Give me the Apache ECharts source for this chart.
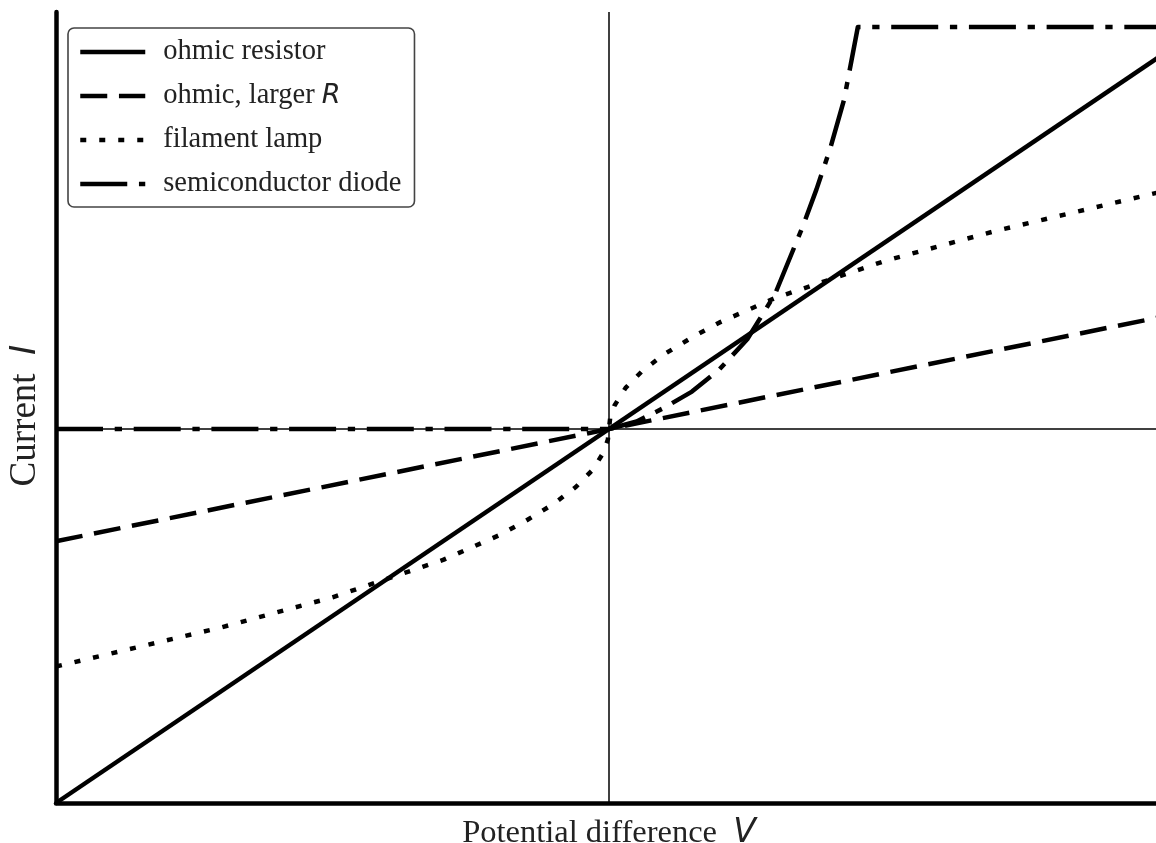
<!DOCTYPE html>
<html>
<head>
<meta charset="utf-8">
<title>I–V characteristics</title>
<script src="https://cdn.jsdelivr.net/npm/echarts@6/dist/echarts.min.js"></script>
<style>
  html, body { margin: 0; padding: 0; background: #fff; }
  #chart { width: 1156px; height: 843px; }
</style>
</head>
<body>
<div id="chart"></div>
<script>
// Series names (legend order)
const seriesNames = ['ohmic resistor', 'ohmic, larger R', 'filament lamp', 'semiconductor diode'];

// [potential difference V, current I] pairs, arbitrary units
const ohmicResistor = [[-1, -1], [1, 1]];
const ohmicLargerR = [[-1, -0.3], [1, 0.3]];
const filamentLamp = [
  [-1, -0.635], [-0.9, -0.60], [-0.8, -0.565], [-0.7, -0.53], [-0.6, -0.49],
  [-0.5, -0.45], [-0.4, -0.40], [-0.3, -0.35], [-0.2, -0.285], [-0.15, -0.245],
  [-0.1, -0.20], [-0.06, -0.155], [-0.03, -0.11], [-0.01, -0.063], [-0.002, -0.028],
  [0, 0],
  [0.002, 0.028], [0.01, 0.063], [0.03, 0.11], [0.06, 0.155], [0.1, 0.20],
  [0.15, 0.245], [0.2, 0.285], [0.3, 0.35], [0.4, 0.40], [0.5, 0.45],
  [0.6, 0.49], [0.7, 0.53], [0.8, 0.565], [0.9, 0.60], [1, 0.635]
];
const semiconductorDiode = [
  [-1, 0], [0, 0], [0.05, 0.02], [0.1, 0.057], [0.15, 0.10], [0.2, 0.16],
  [0.25, 0.24], [0.3, 0.36], [0.35, 0.54], [0.375, 0.64], [0.4, 0.75],
  [0.425, 0.88], [0.45, 1.075], [1, 1.075]
];

// Axis ranges
const vRange = [-1, 1];
const iRange = [-1, 1.115];

const lineW = 4.5;
const serifFont = '"Liberation Serif", "Times New Roman", serif';
const mathFont = '"DejaVu Sans", sans-serif';

const chart = echarts.init(document.getElementById('chart'), null, { renderer: 'canvas' });

function curve(name, data, dash, z) {
  return {
    name: name,
    type: 'line',
    data: data,
    symbol: 'none',
    smooth: false,
    silent: true,
    z: z,
    itemStyle: { color: '#000' },
    lineStyle: { color: '#000', width: lineW, type: dash, cap: 'butt', join: 'round' }
  };
}

chart.setOption({
  animation: false,
  backgroundColor: '#fff',
  grid: {
    left: 56, top: 12, width: 1106, height: 791,
    containLabel: false, outerBoundsMode: 'none'
  },
  xAxis: {
    type: 'value', min: vRange[0], max: vRange[1],
    axisLine: { show: true, onZero: false, lineStyle: { color: '#000', width: lineW } },
    axisTick: { show: false }, axisLabel: { show: false }, splitLine: { show: false },
    name: 'Potential difference  {it|V}',
    nameLocation: 'middle', nameGap: 14,
    nameTextStyle: {
      fontFamily: serifFont, fontSize: 32.5, color: '#222', verticalAlign: 'top',
      rich: { it: { fontFamily: mathFont, fontStyle: 'italic', fontSize: 33, color: '#222' } }
    }
  },
  yAxis: {
    type: 'value', min: iRange[0], max: iRange[1],
    axisLine: { show: true, onZero: false, lineStyle: { color: '#000', width: lineW } },
    axisTick: { show: false }, axisLabel: { show: false }, splitLine: { show: false },
    name: 'Current  {it|I}',
    nameLocation: 'middle', nameRotate: 90, nameGap: 12,
    nameTextStyle: {
      fontFamily: serifFont, fontSize: 37, color: '#222',
      padding: [0, 16, 0, 0],
      rich: { it: { fontFamily: mathFont, fontStyle: 'italic', fontSize: 35, color: '#222' } }
    }
  },
  legend: {
    data: seriesNames,
    orient: 'vertical',
    left: 68, top: 28,
    padding: [9, 13, 8, 10],
    itemWidth: 65, itemHeight: 30, itemGap: 14,
    backgroundColor: '#fff',
    borderColor: '#444', borderWidth: 1.6, borderRadius: 6,
    selectedMode: false,
    itemStyle: { color: 'rgba(0,0,0,0)', borderWidth: 0, borderColor: 'rgba(0,0,0,0)' },
    lineStyle: { width: lineW, color: '#000' },
    formatter: function (name) {
      return name.replace(/ R$/, ' {it|R}');
    },
    textStyle: {
      fontFamily: serifFont, fontSize: 28.5, color: '#222', lineHeight: 30,
      padding: [0, 0, 0, 13],
      rich: { it: { fontFamily: mathFont, fontStyle: 'italic', fontSize: 27, color: '#222', lineHeight: 30 } }
    }
  },
  series: [
    {
      // V = 0 and I = 0 reference lines
      name: 'axes', type: 'line', data: [], silent: true, z: 1,
      markLine: {
        silent: true, symbol: 'none', label: { show: false },
        lineStyle: { color: '#000', width: 1.5, type: 'solid' },
        data: [{ xAxis: 0 }, { yAxis: 0 }]
      }
    },
    curve(seriesNames[0], ohmicResistor, 'solid', 2),
    curve(seriesNames[1], ohmicLargerR, [27, 11.7], 3),
    curve(seriesNames[2], filamentLamp, [6, 13], 4),
    curve(seriesNames[3], semiconductorDiode, [47, 11.7, 7.3, 11.7], 5)
  ]
});
</script>
</body>
</html>
